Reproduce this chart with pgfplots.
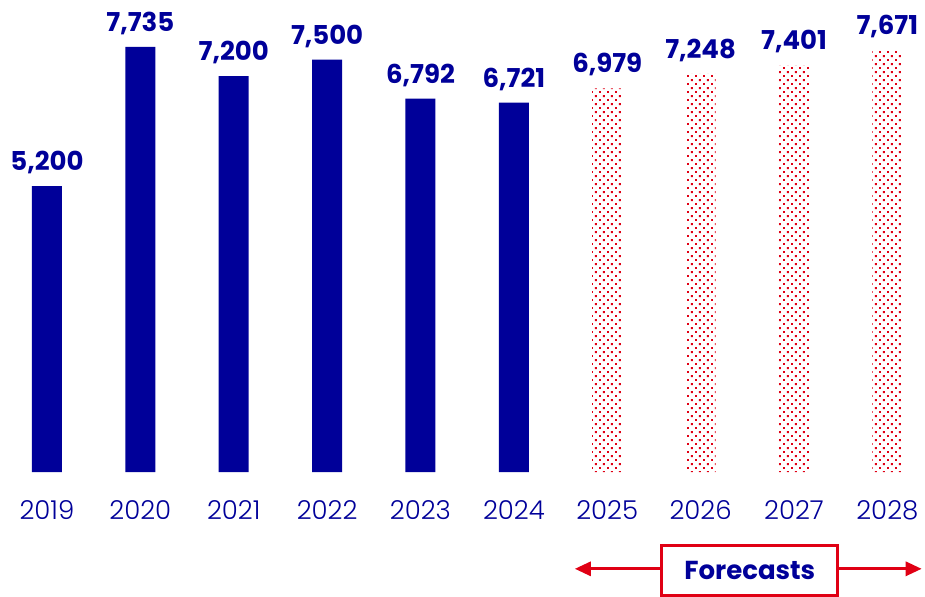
\documentclass[border=0pt]{standalone}
\usepackage{pgfplots}
\pgfplotsset{compat=1.18}
\usepackage{fontspec}
\setmainfont{Poppins}
\newfontfamily\lightfont{Poppins Light}
\usetikzlibrary{patterns,arrows.meta}
\definecolor{navy}{RGB}{0,0,153}
\definecolor{fred}{RGB}{224,0,20}
\pgfdeclarepatternformonly{mydots}{\pgfpointorigin}{\pgfpoint{4pt}{4pt}}{\pgfpoint{4pt}{4pt}}{%
  \pgfpathrectangle{\pgfpoint{0pt}{0pt}}{\pgfpoint{1pt}{1pt}}%
  \pgfpathrectangle{\pgfpoint{2pt}{2pt}}{\pgfpoint{1pt}{1pt}}%
  \pgfusepath{fill}}
\begin{document}
\begin{tikzpicture}
\begin{axis}[
  scale only axis, width=462.5pt, height=236pt,
  xmin=-0.503, xmax=9.4, ymin=0, ymax=8582,
  axis line style={draw=none}, ytick=\empty,
  xtick={0,...,9},
  xticklabels={2019,2020,2021,2022,2023,2024,2025,2026,2027,2028},
  major tick length=0pt,
  xticklabel style={font=\lightfont\fontsize{13}{15}\selectfont, text=navy, yshift=-10.5pt},
  ybar, bar width=15pt, bar shift=0pt, clip=false,
  nodes near coords,
  nodes near coords style={font=\fontsize{13}{15}\selectfont\bfseries, text=navy, yshift=2.5pt},
  /pgf/number format/.cd, 1000 sep={,}, assume math mode=true
]
\addplot[fill=navy, draw=none] coordinates {(0,5200) (1,7735) (2,7200) (3,7500) (4,6792) (5,6721)};
\addplot[draw=none, pattern=mydots, pattern color=fred] coordinates {(6,6979) (7,7248) (8,7401) (9,7671)};
\draw[fred, line width=1.5pt, {Triangle[length=8pt,width=7pt]}-{Triangle[length=8pt,width=7pt]}] (axis cs:5.653,-1760) -- (axis cs:9.368,-1760);
\node[draw=fred, line width=1.5pt, fill=white, minimum width=88pt, minimum height=25pt, text=navy, font=\fontsize{13}{15}\selectfont\bfseries] at (axis cs:7.527,-1790) {Forecasts};
\end{axis}
\end{tikzpicture}
\end{document}
